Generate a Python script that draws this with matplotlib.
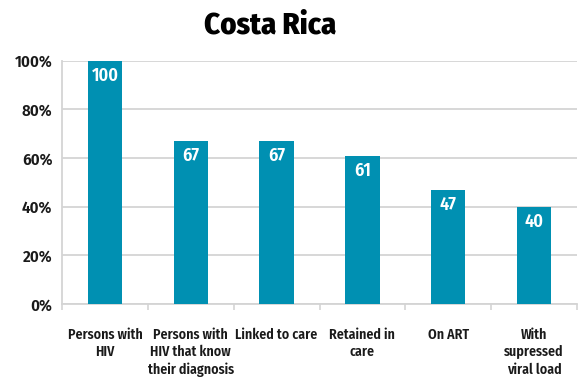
import matplotlib
matplotlib.use("Agg")
import matplotlib.pyplot as plt

categories = ["Persons with\nHIV", "Persons with\nHIV that know\ntheir diagnosis",
              "Linked to care", "Retained in\ncare", "On ART",
              "With\nsupressed\nviral load"]
values = [100, 67, 67, 61, 47, 40]
yticks = [0, 20, 40, 60, 80, 100]
ytick_labels = ["0%", "20%", "40%", "60%", "80%", "100%"]

plt.rcParams["font.family"] = ["Fira Sans Condensed", "DejaVu Sans"]

bar_color = "#0090B2"
grid_color = "#D4D4D4"
text_color = "#1a1a1a"

fig = plt.figure(figsize=(5.81, 3.79), dpi=100)
ax = fig.add_axes([62/581, 1 - 304/379, (577 - 62)/581, (304 - 60.7)/379])

x = list(range(len(categories)))
ax.bar(x, values, width=0.4, color=bar_color, zorder=3)
for xi, v in zip(x, values):
    ax.text(xi, v - 2.5, f"{v}", ha="center", va="top", color="white",
            fontsize=13, fontweight="semibold", zorder=4)

ax.set_xlim(-0.5, len(categories) - 0.5)
ax.set_ylim(0, 100)
ax.set_yticks(yticks)
ax.set_yticklabels(ytick_labels, fontsize=12, color=text_color, fontweight="semibold")
ax.yaxis.grid(True, color=grid_color, linewidth=1.3, zorder=0)
ax.tick_params(axis="y", length=0, pad=7)

ax.set_xticks(x)
ax.set_xticklabels(categories, fontsize=10, color=text_color, fontweight="semibold",
                   linespacing=1.3, va="top")
ax.set_xticks([i - 0.5 for i in range(len(categories) + 1)], minor=True)
ax.tick_params(axis="x", which="major", length=0, pad=17)
ax.tick_params(axis="x", which="minor", length=4, color=grid_color, width=1.2)

for side in ("top", "right"):
    ax.spines[side].set_visible(False)
ax.spines["left"].set_color(grid_color)
ax.spines["left"].set_linewidth(1.3)
ax.spines["bottom"].set_color(grid_color)
ax.spines["bottom"].set_linewidth(1.3)

fig.text(270/581, 1 - 25/379, "Costa Rica", ha="center", va="center",
         fontsize=22, fontweight="heavy", color="black")

fig.savefig("out.png", dpi=100, facecolor="white")
